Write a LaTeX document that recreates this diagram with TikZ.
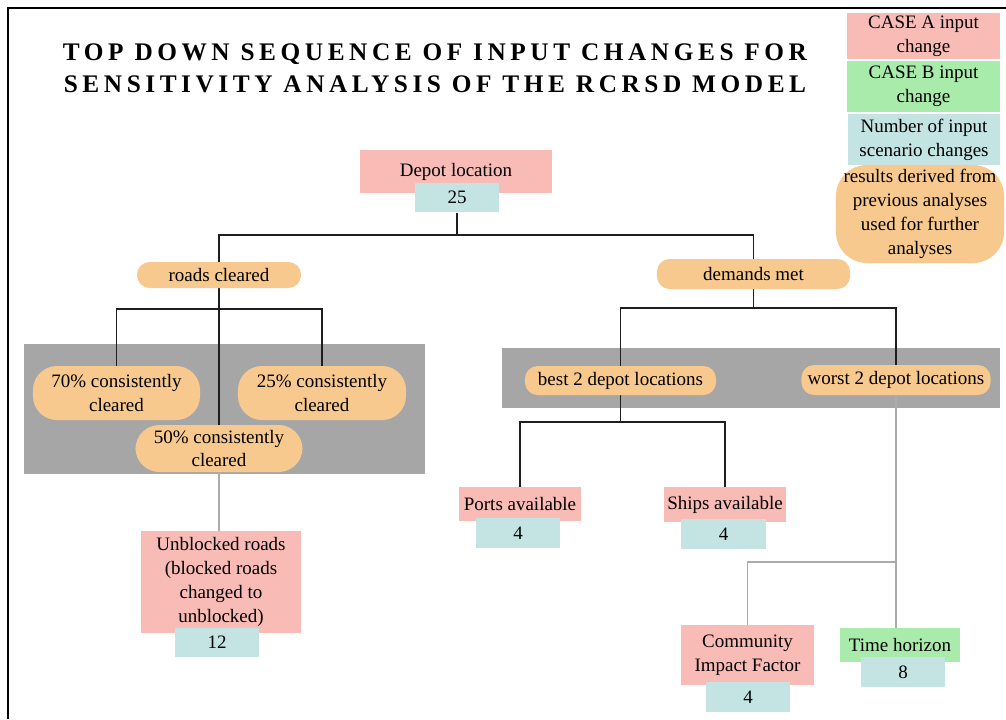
\documentclass[tikz,border=0pt]{standalone}
\usepackage{fontspec}
\setmainfont{Liberation Serif}
\usepackage{tikz}
\usetikzlibrary{
  positioning,
  calc,
  backgrounds
}
\definecolor{rsCaseA}{HTML}{F9BBB5}
\definecolor{rsCaseB}{HTML}{A9EBAB}
\definecolor{rsCount}{HTML}{C4E4E3}
\definecolor{rsResult}{HTML}{F7C98E}
\definecolor{rsPanel}{HTML}{A6A6A6}
\definecolor{rsGrey}{HTML}{ABABAB}
\definecolor{rsLine}{HTML}{1E1E1E}
\tikzset{
  rsnode/.style={
    inner sep=0pt, align=center,
    font=\fontsize{13.5}{17}\selectfont
  },
  casea/.style={rsnode, fill=rsCaseA},
  caseb/.style={rsnode, fill=rsCaseB},
  count/.style={rsnode, fill=rsCount, minimum width=2.1cm, minimum height=0.74cm},
  result/.style={rsnode, fill=rsResult, rounded corners=9pt},
  result2/.style={result, rounded corners=17pt},
  panel/.style={fill=rsPanel},
  link/.style={line width=1pt, rsLine},
  sublink/.style={line width=1.4pt, rsGrey},
  frame/.style={line width=1.5pt, black},
  title/.style={
    align=center, inner sep=0pt,
    font=\fontsize{18}{22.7}\selectfont\bfseries\addfontfeature{LetterSpace=18}
  }
}

\begin{document}
\begin{tikzpicture}[x=0.025cm, y=-0.025cm]
  \useasboundingbox (0,0) rectangle (1006,719);
  \draw[frame] (8,719) -- (8,8) -- (1006,8);

  \node[title] (title) at (435,68) {TOP DOWN SEQUENCE OF INPUT CHANGES FOR\\SENSITIVITY ANALYSIS OF THE RCRSD MODEL};

  % legend
  \node[casea, minimum width=3.825cm, minimum height=1.15cm] (keya) at (923.5,36) {CASE A input\\change};
  \node[caseb, minimum width=3.825cm, minimum height=1.275cm] (keyb) at (923.5,86.5) {CASE B input\\change};
  \node[count, minimum width=3.8cm, minimum height=1.275cm] (keyn) at (924,139.5) {Number of input\\scenario changes};
  \node[result, rounded corners=22pt, minimum width=4.2cm, minimum height=2.45cm] (keyr) at (920,214) {results derived from\\previous analyses\\used for further\\analyses};

  % top level
  \node[casea, minimum width=4.8cm, minimum height=1.075cm] (depot) at (456,171.5) {Depot location};
  \node[count] (v25) at (457,197.5) {25};

  \node[result, minimum width=4.1cm, minimum height=0.65cm] (roads) at (219,275) {roads cleared};
  \node[result, minimum width=4.825cm, minimum height=0.75cm] (demands) at (753.5,274) {demands met};

  % roads cleared branch
  \node[result2, minimum width=4.175cm, minimum height=1.35cm] (c70) at (116.5,393) {70\% consistently\\cleared};
  \node[result2, minimum width=4.2cm, minimum height=1.35cm] (c25) at (322,393) {25\% consistently\\cleared};
  \node[result2, minimum width=4.175cm, minimum height=1.175cm] (c50) at (219,448.5) {50\% consistently\\cleared};
  \node[casea, minimum width=4cm, minimum height=2.55cm] (unblocked) at (221,582) {Unblocked roads\\(blocked roads\\changed to\\unblocked)};
  \node[count] (v12) at (217,642.5) {12};

  % demands met branch
  \node[result, minimum width=4.775cm, minimum height=0.725cm] (best) at (620.5,380.5) {best 2 depot locations};
  \node[result, minimum width=4.725cm, minimum height=0.75cm] (worst) at (896,380) {worst 2 depot locations};
  \node[casea, minimum width=3.05cm, minimum height=0.85cm] (ports) at (520,504) {Ports available};
  \node[count] (v4a) at (518,533) {4};
  \node[casea, minimum width=3.05cm, minimum height=0.875cm] (ships) at (725,504.5) {Ships available};
  \node[count] (v4b) at (723.5,534) {4};
  \node[casea, minimum width=3.325cm, minimum height=1.5cm] (community) at (747.5,655) {Community\\Impact Factor};
  \node[count] (v4c) at (748,697) {4};
  \node[caseb, minimum width=3cm, minimum height=0.85cm] (time) at (900,645) {Time horizon};
  \node[count] (v8) at (903,672) {8};

  \begin{scope}[on background layer]
    \fill[panel] (24,344) rectangle (425,474);
    \fill[panel] (502,348) rectangle (1000,408);

    \coordinate (jtop) at (v25.south |- 0,235);
    \draw[link] (v25.south) -- (jtop);
    \draw[link] (roads.north) |- (jtop) -| (demands.north);

    \coordinate (jroads) at (roads.south |- 0,309);
    \draw[link] (roads.south) -- (c50.north);
    \draw[link] (c70.north) |- (jroads) -| (c25.north);
    \draw[sublink] (c50.south) -- (c50.south |- unblocked.north);

    \coordinate (jdem) at (demands.south |- 0,308);
    \draw[link] (demands.south) -- (jdem);
    \draw[link] (best.north) |- (jdem) -| (worst.north);

    \coordinate (jbest) at (best.south |- 0,422);
    \draw[link] (best.south) -- (jbest);
    \draw[link] (ports.north) |- (jbest) -| (ships.north);

    \coordinate (jworst) at (worst.south |- 0,562);
    \draw[sublink] (worst.south) -- (worst.south |- time.north);
    \draw[sublink] (jworst) -| (community.north);
  \end{scope}
\end{tikzpicture}
\end{document}
